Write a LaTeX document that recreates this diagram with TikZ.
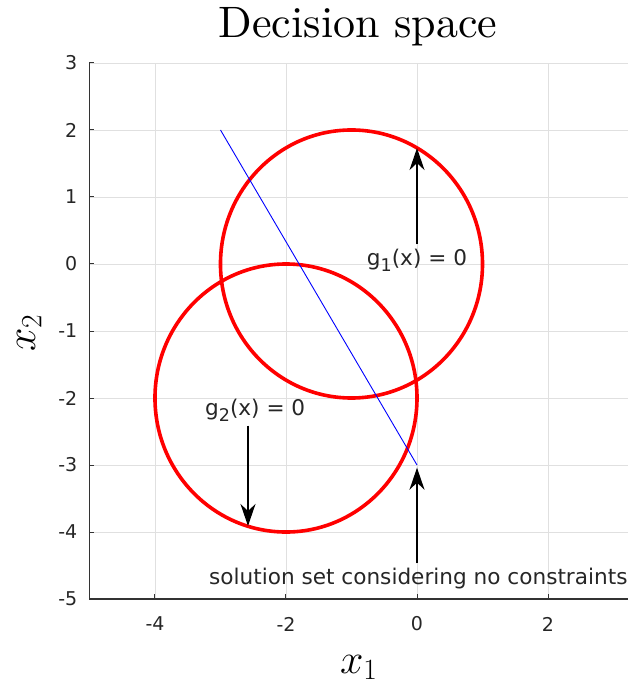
\RequirePackage{fix-cm}
\documentclass[tikz,border=0pt]{standalone}
\usepackage{fontspec}
\usetikzlibrary{arrows.meta}
\newfontfamily\plotsf{DejaVu Sans}
\newfontfamily\titlerm{lmroman10-regular}[Extension=.otf]

\begin{document}
\begin{tikzpicture}[
  x=65.5pt, y=67pt,
  tick/.style={font=\plotsf\fontsize{19}{22}\selectfont, text=black!85, inner sep=0pt},
  note/.style={font=\plotsf\fontsize{21.6}{26}\selectfont, text=black!85, inner sep=4pt},
  gridln/.style={draw=black!12, line width=0.9pt},
  spine/.style={draw=black!80, line width=1.4pt},
  ring/.style={draw=red, line width=3.6pt},
  arr/.style={-{Stealth[length=22pt,width=15pt,inset=7pt]}, draw=black, line width=1.8pt}
]
\useasboundingbox (-6.366,-6.313) rectangle (3.267,3.940);

% grid and axes
\draw[gridln, xstep=2, ystep=1] (-5,-5) grid (3.22,3);
\draw[spine] (-5,3) -- (-5,-5) -- (3.22,-5);
\foreach \v [count=\i] in {-4,-2,0,2} {
  \draw[spine, line width=1pt] (\v,-5) -- ++(0,5pt);
  \node[tick] (xt\i) at (\v,-5) [yshift=-25pt] {\v};
}
\foreach \v [count=\i] in {-5,...,3} {
  \draw[spine, line width=1pt] (-5,\v) -- ++(5pt,0);
  \node[tick, anchor=east] (yt\i) at (-5,\v) [xshift=-12pt] {\v};
}

% titles
\node[font=\titlerm\fontsize{44}{52}\selectfont, anchor=base] (title) at (-0.9,3.373) {Decision space};
\node[font=\fontsize{42}{50}\selectfont, anchor=base] (xlab) at (-0.89,-6.104) {$x_1$};
\node[font=\fontsize{42}{50}\selectfont, rotate=90] (ylab) at (-5.92,-1.03) {$x_2$};

% constraint circles
\draw[ring] (-1,0) circle[radius=2];
\draw[ring] (-2,-2) circle[radius=2];

% unconstrained solution set
\draw[blue, line width=0.9pt] (-3,2) -- (0,-3);

% labels and arrows
\coordinate (g1tip) at (0,1.73);
\coordinate (g2tip) at (-2.58,-3.91);
\coordinate (soltip) at (0,-3.04);

\node[note, anchor=base] (g1lbl) at (0,-0.015) {g\raisebox{-0.3em}{\fontsize{17.5}{20}\selectfont 1}(x) = 0};
\node[note, anchor=base] (g2lbl) at (-2.47,-2.254) {g\raisebox{-0.3em}{\fontsize{17.5}{20}\selectfont 2}(x) = 0};
\node[note, anchor=base] (sol) at (0.02,-4.776) {solution set considering no constraints};

\draw[arr] (g1lbl) -- (g1tip);
\draw[arr] (g2lbl.south -| g2tip) -- (g2tip);
\draw[arr] (sol.north -| soltip) -- (soltip);
\end{tikzpicture}
\end{document}
